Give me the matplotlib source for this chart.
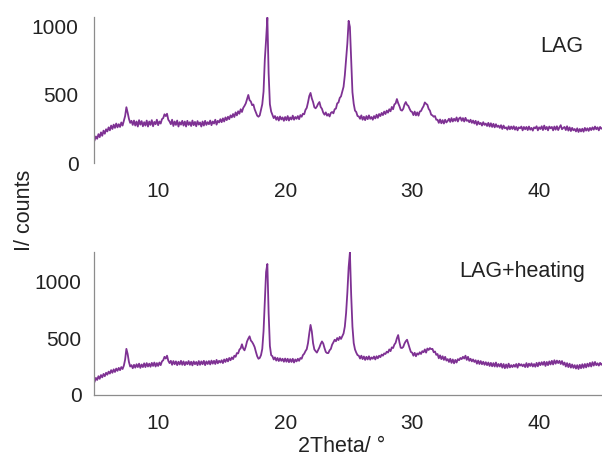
import numpy as np
import matplotlib
matplotlib.use("Agg")
import matplotlib.pyplot as plt

plt.rcParams['font.family'] = ['Liberation Sans', 'DejaVu Sans']

# 2Theta grid (degrees), 0.1 step from 5 to 45
two_theta = np.round(np.arange(5.0, 45.05, 0.1), 1)

counts_lag = [
    168, 195, 178, 212, 190, 225, 200, 238, 215, 248,
    232, 262, 240, 275, 250, 282, 258, 290, 262, 285,
    265, 298, 275, 310, 345, 410, 370, 325, 295, 310,
    280, 312, 275, 305, 268, 315, 282, 308, 270, 300,
    275, 312, 268, 305, 280, 315, 270, 302, 285, 318,
    278, 305, 290, 322, 330, 358, 345, 362, 318, 305,
    285, 318, 272, 305, 280, 312, 268, 300, 282, 310,
    275, 305, 268, 310, 280, 300, 272, 312, 278, 302,
    270, 308, 282, 298, 268, 305, 275, 310, 280, 300,
    285, 312, 278, 305, 290, 318, 282, 310, 298, 322,
    300, 328, 305, 335, 315, 340, 322, 350, 335, 360,
    338, 372, 350, 380, 362, 395, 375, 405, 420, 438,
    470, 500, 462, 452, 425, 430, 395, 372, 348, 340,
    350, 390, 432, 525, 760, 905, 1068, 660, 432, 378,
    355, 330, 345, 318, 338, 312, 342, 320, 335, 310,
    338, 315, 345, 312, 335, 320, 348, 318, 338, 325,
    345, 322, 352, 340, 362, 358, 390, 405, 445, 492,
    515, 475, 448, 410, 402, 415, 435, 448, 412, 398,
    370, 355, 372, 348, 360, 342, 368, 375, 365, 395,
    400, 438, 445, 478, 490, 525, 560, 645, 760, 880,
    1045, 1000, 760, 520, 435, 385, 375, 345, 342, 325,
    350, 318, 340, 315, 345, 322, 350, 325, 338, 318,
    345, 328, 355, 332, 360, 345, 368, 352, 378, 360,
    385, 370, 395, 380, 412, 395, 430, 438, 470, 440,
    418, 390, 385, 398, 430, 448, 428, 420, 398, 380,
    375, 352, 378, 350, 372, 348, 378, 382, 402, 418,
    445, 435, 428, 398, 385, 355, 350, 340, 345, 318,
    318, 295, 320, 292, 315, 290, 318, 298, 310, 325,
    302, 330, 305, 325, 310, 335, 305, 328, 335, 310,
    330, 305, 332, 310, 315, 300, 318, 295, 312, 290,
    310, 280, 305, 285, 295, 275, 300, 280, 290, 272,
    295, 268, 292, 265, 288, 262, 285, 265, 275, 258,
    278, 250, 275, 255, 262, 245, 270, 248, 268, 250,
    270, 245, 265, 240, 262, 255, 268, 240, 265, 248,
    265, 242, 268, 245, 258, 238, 262, 255, 270, 240,
    262, 250, 270, 242, 275, 248, 265, 240, 268, 255,
    265, 240, 268, 245, 270, 242, 262, 278, 248, 258,
    265, 242, 270, 238, 262, 235, 258, 240, 250, 232,
    255, 228, 250, 232, 252, 230, 258, 238, 255, 236,
    258, 242, 262, 245, 268, 248, 262, 240, 265, 252,
    258,
]

counts_heating = [
    118, 150, 132, 165, 142, 175, 155, 185, 165, 195,
    178, 205, 188, 218, 195, 225, 202, 232, 212, 238,
    218, 245, 228, 258, 310, 405, 360, 290, 250, 262,
    235, 265, 240, 270, 245, 275, 238, 268, 245, 278,
    245, 280, 250, 275, 248, 282, 255, 285, 250, 280,
    255, 285, 262, 295, 305, 335, 320, 345, 300, 280,
    300, 265, 298, 270, 295, 262, 292, 268, 300, 265,
    295, 262, 290, 270, 298, 265, 292, 260, 295, 270,
    290, 262, 298, 265, 295, 270, 300, 262, 295, 272,
    298, 268, 302, 275, 300, 272, 308, 278, 300, 285,
    305, 280, 312, 290, 318, 295, 325, 305, 330, 315,
    345, 335, 368, 365, 398, 410, 445, 408, 392, 425,
    470, 495, 515, 478, 465, 445, 420, 378, 340, 318,
    325, 350, 405, 560, 820, 1080, 1150, 720, 430, 350,
    340, 312, 330, 302, 325, 298, 322, 300, 318, 292,
    320, 292, 318, 288, 315, 290, 318, 285, 312, 295,
    318, 300, 325, 318, 350, 362, 385, 402, 455, 540,
    615, 558, 455, 400, 385, 372, 395, 418, 448, 470,
    452, 412, 378, 368, 368, 392, 405, 442, 462, 485,
    472, 500, 482, 510, 492, 515, 540, 600, 720, 900,
    1120, 1250, 880, 600, 456, 400, 372, 350, 345, 320,
    345, 315, 338, 308, 335, 312, 340, 310, 330, 318,
    338, 312, 340, 322, 345, 332, 355, 345, 365, 360,
    380, 372, 400, 385, 418, 412, 442, 458, 498, 526,
    462, 415, 412, 422, 452, 472, 485, 448, 412, 378,
    372, 345, 370, 340, 365, 355, 375, 360, 385, 375,
    400, 372, 408, 395, 412, 402, 405, 375, 382, 352,
    360, 322, 348, 315, 340, 308, 335, 302, 315, 290,
    318, 282, 312, 278, 308, 285, 315, 305, 325, 315,
    335, 320, 345, 308, 335, 300, 318, 295, 312, 290,
    305, 275, 302, 272, 298, 270, 292, 265, 288, 262,
    285, 255, 282, 252, 280, 250, 285, 248, 272, 250,
    275, 240, 272, 235, 268, 238, 275, 242, 262, 245,
    265, 248, 272, 240, 275, 258, 270, 252, 268, 245,
    280, 245, 275, 255, 278, 250, 272, 248, 282, 252,
    285, 262, 288, 265, 292, 255, 290, 262, 295, 268,
    300, 268, 305, 275, 302, 280, 300, 272, 298, 265,
    285, 250, 280, 245, 275, 240, 268, 238, 262, 232,
    262, 228, 265, 235, 270, 238, 272, 242, 275, 250,
    282, 250, 288, 258, 290, 262, 278, 258, 282, 265,
    278,
]

x_ticks = [10, 20, 30, 40]
y_ticks = [0, 500, 1000]
labels = ["LAG", "LAG+heating"]

line_color = '#7e3193'
spine_color = '#8c8c8c'
text_color = '#222222'

W, H = 602, 466
fig = plt.figure(figsize=(W / 100, H / 100), dpi=100)

ax1 = fig.add_axes([94 / W, 1 - 163 / H, 508 / W, 146 / H])
ax2 = fig.add_axes([94 / W, 1 - 395 / H, 508 / W, 143 / H])

for ax, y, ylim in [(ax1, counts_lag, 1073), (ax2, counts_heating, 1255)]:
    ax.plot(two_theta, y, color=line_color, lw=1.3)
    ax.set_xlim(4.95, 44.95)
    ax.set_ylim(0, ylim)
    ax.set_xticks(x_ticks)
    ax.set_yticks(y_ticks)
    ax.set_xticks([20], minor=True)
    ax.tick_params(axis='x', which='major', length=0, pad=14,
                   labelsize=15, labelcolor=text_color)
    ax.tick_params(axis='x', which='minor', length=4, width=0.8, color=spine_color)
    for s in ['top', 'right']:
        ax.spines[s].set_visible(False)
    ax.spines['left'].set_color(spine_color)
    ax.spines['bottom'].set_color(spine_color)
    ax.spines['left'].set_linewidth(0.9)
    ax.spines['bottom'].set_linewidth(0.9)

ax1.spines['bottom'].set_visible(False)
ax1.tick_params(axis='y', which='major', length=0, pad=11,
                labelsize=15, labelcolor=text_color)
ax2.set_yticks([0, 500], minor=True)
ax2.tick_params(axis='y', which='major', length=0, pad=9,
                labelsize=15, labelcolor=text_color)
ax2.tick_params(axis='y', which='minor', length=5, width=0.8, color=spine_color)

fig.text(562 / W, 1 - 47 / H, labels[0], ha='center', va='center',
         fontsize=15.5, color=text_color)
fig.text(522 / W, 1 - 272 / H, labels[1], ha='center', va='center',
         fontsize=15.5, color=text_color)

fig.text(342 / W, 1 - 447 / H, "2Theta/ °", ha='center', va='center',
         fontsize=15.5, color=text_color)
fig.text(24 / W, 1 - 210 / H, "I/ counts", ha='center', va='center',
         rotation=90, fontsize=15.5, color=text_color)

fig.savefig("out.png", dpi=100)
